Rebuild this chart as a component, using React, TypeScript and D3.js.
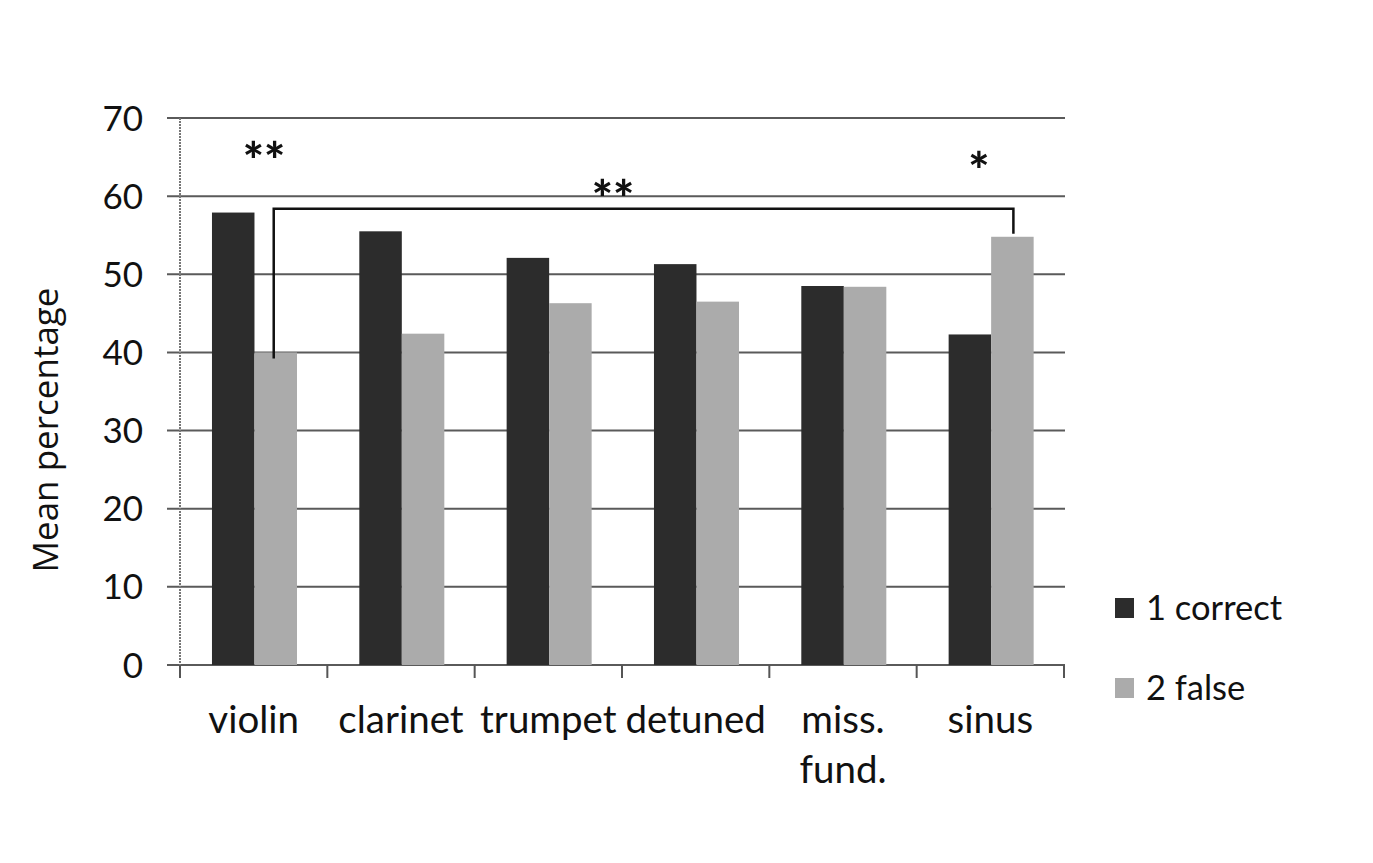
import React from "react";
import * as d3 from "d3";

const categories = ["violin", "clarinet", "trumpet", "detuned", "miss.\nfund.", "sinus"];
const seriesNames = ["1 correct", "2 false"];
const correctValues = [57.9, 55.5, 52.1, 51.3, 48.5, 42.3];
const falseValues = [40.0, 42.4, 46.3, 46.5, 48.4, 54.8];
const yTicks = [0, 10, 20, 30, 40, 50, 60, 70];
const colors = ["#2c2c2c", "#ababab"];

const FONT = "Lato, 'Open Sans', sans-serif";

export default function App() {
  const W = 1373, H = 863;
  const x0 = d3.scaleBand<string>().domain(categories).range([180, 1064]).padding(0);
  const bw = x0.bandwidth();
  const x1 = d3.scaleBand<string>().domain(seriesNames).range([0.217 * bw, 0.794 * bw]).padding(0);
  const y = d3.scaleLinear().domain([0, 70]).range([665, 118]);
  const series = [correctValues, falseValues];

  const gridColor = "#5a5a5a";

  const leftX = (x0(categories[0]) as number) + (x1(seriesNames[1]) as number) + x1.bandwidth() / 2 - 2;
  const rightX = (x0(categories[5]) as number) + (x1(seriesNames[1]) as number) + x1.bandwidth() / 2 + 1;
  const bracketY = y(58.4);

  const star = (xx: number, yy: number, s: string) => (
    <text x={xx} y={yy + 29} textAnchor="middle" fontFamily={FONT} fontWeight={900} fontSize={50} fill="#111">
      {s}
    </text>
  );

  return (
    <svg width={W} height={H} style={{ display: "block", position: "absolute", left: 0, top: 0 }}>
      <rect x={0} y={0} width={W} height={H} fill="#fff" />
      {yTicks.map((t) => (
        <line key={t} x1={167} x2={1065} y1={y(t)} y2={y(t)} stroke={gridColor} strokeWidth={2} />
      ))}
      <line x1={180} x2={180} y1={y(70)} y2={678} stroke="#777" strokeWidth={2} strokeDasharray="2 1" />
      {d3.range(categories.length + 1).map((i) => {
        const xx = 180 + i * bw;
        return <line key={i} x1={xx} x2={xx} y1={665} y2={678} stroke="#555" strokeWidth={2} />;
      })}
      {categories.map((c, ci) => (
        <g key={c} transform={`translate(${x0(c)},0)`}>
          {seriesNames.map((s, si) => (
            <rect
              key={s}
              x={x1(s)}
              y={y(series[si][ci])}
              width={x1.bandwidth()}
              height={y(0) - y(series[si][ci])}
              fill={colors[si]}
            />
          ))}
        </g>
      ))}
      {yTicks.map((t) => (
        <text key={t} x={143} y={y(t)} dy="0.36em" textAnchor="end" fontFamily={FONT} fontSize={35} fill="#111">
          {t}
        </text>
      ))}
      {categories.map((c) => {
        const lines = c.split("\n");
        return (
          <text key={c} x={(x0(c) as number) + bw / 2} y={733} textAnchor="middle" fontFamily={FONT} fontSize={38.5} fill="#111">
            {lines.map((l, i) => (
              <tspan key={i} x={(x0(c) as number) + bw / 2} dy={i === 0 ? 0 : 50}>
                {l}
              </tspan>
            ))}
          </text>
        );
      })}
      <text transform="translate(58,430) rotate(-90)" textAnchor="middle" fontFamily="'Open Sans', sans-serif" fontSize={35} fill="#111">
        Mean percentage
      </text>
      <path
        d={`M${leftX},${y(40) + 6} V${bracketY} H${rightX} V${y(54.8) - 3}`}
        fill="none"
        stroke="#111"
        strokeWidth={2.5}
      />
      {star(264, 150, "**")}
      {star(613, 188, "**")}
      {star(979, 160, "*")}
      {seriesNames.map((s, i) => (
        <g key={s} transform={`translate(1115,${608 + i * 80})`}>
          <rect x={0} y={-10} width={19} height={20} fill={colors[i]} />
          <text x={31} y={0} dy="0.36em" fontFamily={FONT} fontSize={34.5} fill="#111">
            {s}
          </text>
        </g>
      ))}
    </svg>
  );
}
